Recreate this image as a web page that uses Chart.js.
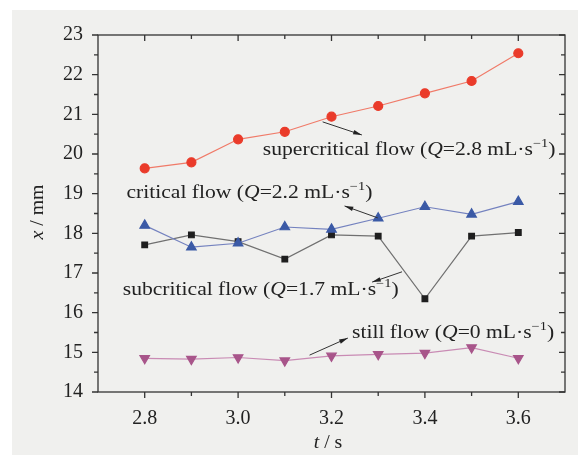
<!DOCTYPE html>
<html>
<head>
<meta charset="utf-8">
<script src="https://cdn.jsdelivr.net/npm/chart.js@4"></script>
<style>
  html, body { margin: 0; padding: 0; background: #fff; }
  #wrap { width: 578px; height: 469px; }
</style>
</head>
<body>
<div id="wrap"><canvas id="flowChart" width="578" height="469"></canvas></div>
<script>
// time (s)
const times = [2.8, 2.9, 3.0, 3.1, 3.2, 3.3, 3.4, 3.5, 3.6];
// x / mm for each flow regime
const supercritical = [19.64, 19.79, 20.37, 20.56, 20.94, 21.21, 21.53, 21.84, 22.54];
const critical = [18.2, 17.65, 17.75, 18.16, 18.1, 18.38, 18.67, 18.48, 18.8];
const subcritical = [17.71, 17.96, 17.79, 17.35, 17.96, 17.93, 16.35, 17.93, 18.02];
const still = [14.85, 14.83, 14.87, 14.79, 14.91, 14.95, 14.98, 15.12, 14.85];
const xTickLabels = ['2.8', '3.0', '3.2', '3.4', '3.6'];

const FONT = '"Liberation Serif", "Times New Roman", serif';
const STRETCH = 1.2; // the source figure is a bit wider than tall

function pts(vals) {
  return vals.map((v, i) => ({ x: times[i], y: v }));
}

// label text + arrow, anchored in data units
const notes = [
  { t: 3.053, v: 20.10, q: '2.8', name: 'supercritical flow', from: [3.181, 20.81], to: [3.265, 20.48] },
  { t: 2.761, v: 19.02, q: '2.2', name: 'critical flow', from: [3.299, 18.39], to: [3.228, 18.69] },
  { t: 2.753, v: 16.57, q: '1.7', name: 'subcritical flow', from: [3.351, 17.03], to: [3.287, 16.77] },
  { t: 3.244, v: 15.49, q: '0', name: 'still flow', from: [3.153, 14.93], to: [3.235, 15.36] }
];

function drawParts(ctx, x, y, parts, sx) {
  ctx.save();
  ctx.translate(x, y);
  ctx.scale(sx || 1, 1);
  let cx = 0;
  parts.forEach(p => {
    ctx.font = (p.italic ? 'italic ' : '') + p.size + 'px ' + FONT;
    ctx.fillText(p.text, cx, p.dy || 0);
    cx += ctx.measureText(p.text).width;
  });
  ctx.restore();
  return cx * (sx || 1);
}

function partsWidth(ctx, parts, sx) {
  let w = 0;
  parts.forEach(p => {
    ctx.font = (p.italic ? 'italic ' : '') + p.size + 'px ' + FONT;
    w += ctx.measureText(p.text).width;
  });
  return w * (sx || 1);
}

const framePlugin = {
  id: 'frame',
  beforeDraw(chart) {
    const c = chart.ctx;
    c.save();
    c.fillStyle = '#ffffff';
    c.fillRect(0, 0, chart.width, chart.height);
    c.fillStyle = '#f0f0ee';
    c.fillRect(12, 10, chart.width - 12, 445);
    c.restore();
  },
  afterDatasetsDraw(chart) {
    const c = chart.ctx;
    const a = chart.chartArea;
    const xs = chart.scales.x, ys = chart.scales.y;
    c.save();
    c.strokeStyle = '#333';
    c.lineWidth = 1.3;
    c.strokeRect(a.left, a.top, a.right - a.left, a.bottom - a.top);
    // x ticks: bottom outward, top inward
    for (let k = 28; k <= 36; k++) {
      const px = xs.getPixelForValue(k / 10);
      const len = k % 2 === 0 ? 6 : 4;
      c.beginPath();
      c.moveTo(px, a.bottom); c.lineTo(px, a.bottom + len);
      c.moveTo(px, a.top); c.lineTo(px, a.top + len);
      c.stroke();
    }
    // y ticks: left outward, right inward
    for (let k = 28; k <= 46; k++) {
      const py = ys.getPixelForValue(k / 2);
      const len = k % 2 === 0 ? 6 : 4;
      c.beginPath();
      c.moveTo(a.left, py); c.lineTo(a.left - len, py);
      c.moveTo(a.right, py); c.lineTo(a.right - len, py);
      c.stroke();
    }
    // annotations
    c.fillStyle = '#222';
    c.textBaseline = 'middle';
    notes.forEach(n => {
      const x0 = xs.getPixelForValue(n.t), y0 = ys.getPixelForValue(n.v);
      drawParts(c, x0, y0, [
        { text: n.name + ' (', size: 18 },
        { text: 'Q', size: 18, italic: true },
        { text: '=' + n.q + ' mL\u00b7s', size: 18 },
        { text: '\u22121', size: 12, dy: -6 },
        { text: ')', size: 18 }
      ], STRETCH);
      const fx = xs.getPixelForValue(n.from[0]), fy = ys.getPixelForValue(n.from[1]);
      const tx = xs.getPixelForValue(n.to[0]), ty = ys.getPixelForValue(n.to[1]);
      c.strokeStyle = '#333';
      c.lineWidth = 1;
      c.beginPath(); c.moveTo(fx, fy); c.lineTo(tx, ty); c.stroke();
      const ang = Math.atan2(ty - fy, tx - fx);
      c.beginPath();
      c.moveTo(tx, ty);
      c.lineTo(tx - 9 * Math.cos(ang - 0.25), ty - 9 * Math.sin(ang - 0.25));
      c.lineTo(tx - 9 * Math.cos(ang + 0.25), ty - 9 * Math.sin(ang + 0.25));
      c.closePath();
      c.fillStyle = '#222';
      c.fill();
    });
    // axis titles
    const tParts = [{ text: 't', size: 18, italic: true }, { text: ' / s', size: 18 }];
    drawParts(c, 328 - partsWidth(c, tParts, 1.1) / 2, 443, tParts, 1.1);
    const xParts = [{ text: 'x', size: 18, italic: true }, { text: ' / mm', size: 18 }];
    c.translate(38, 212);
    c.rotate(-Math.PI / 2);
    drawParts(c, -partsWidth(c, xParts, 1.1) / 2, 0, xParts, 1.1);
    c.restore();
  }
};

function series(label, vals, line, fill, shape, r, rot) {
  return {
    label: label,
    data: pts(vals),
    borderColor: line,
    borderWidth: 1.2,
    pointBackgroundColor: fill,
    pointBorderColor: fill,
    pointStyle: shape,
    pointRadius: r,
    pointRotation: rot || 0,
    tension: 0
  };
}

new Chart(document.getElementById('flowChart'), {
  type: 'line',
  data: {
    datasets: [
      series('supercritical', supercritical, '#f07a68', '#ea3b2a', 'circle', 4.5),
      series('critical', critical, '#7482bf', '#3b5aa6', 'triangle', 5.5),
      series('subcritical', subcritical, '#707070', '#1e1e1e', 'rect', 4),
      series('still', still, '#c98bb4', '#a8558a', 'triangle', 5.5, 180)
    ]
  },
  plugins: [framePlugin],
  options: {
    responsive: false,
    animation: false,
    layout: { padding: { top: 35, right: 13, left: 0, bottom: 0 } },
    plugins: { legend: { display: false }, tooltip: { enabled: false } },
    scales: {
      x: {
        type: 'linear',
        min: 2.7,
        max: 3.7,
        afterFit(s) { s.height = 77; },
        grid: { display: false },
        border: { display: false },
        ticks: {
          stepSize: 0.1,
          padding: 7,
          color: '#222',
          font: { family: FONT, size: 20 },
          autoSkip: false,
          maxRotation: 0,
          callback(v) {
            const s = (Math.round(v * 10) / 10).toFixed(1);
            return xTickLabels.includes(s) ? s : '';
          }
        }
      },
      y: {
        min: 14,
        max: 23,
        afterFit(s) { s.width = 98; },
        grid: { display: false },
        border: { display: false },
        ticks: {
          stepSize: 1,
          padding: 7,
          color: '#222',
          font: { family: FONT, size: 20 }
        }
      }
    }
  }
});
</script>
</body>
</html>
